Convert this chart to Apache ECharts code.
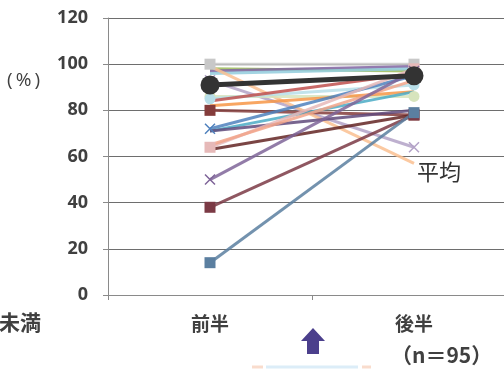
<!DOCTYPE html>
<html>
<head>
<meta charset="utf-8">
<script src="https://cdn.jsdelivr.net/npm/echarts@6/dist/echarts.min.js"></script>
<style>
  html, body { margin: 0; padding: 0; background: #fff; }
  #chart { width: 504px; height: 369px; }
</style>
</head>
<body>
<div id="chart"></div>
<script>
// Periods on the x axis
const periods = ['前半', '後半'];
// Y-axis ticks (percent)
const yTicks = [0, 20, 40, 60, 80, 100, 120];

// Individual rates (%) for each period: [前半, 後半]
const s01 = [100, 100];
const s02 = [98, 97];
const s03 = [97, 99];
const s04 = [96, 98];
const s05 = [93, 64];
const s06 = [99, 57];
const s07 = [86, 86];
const s08 = [85, 91];
const s09 = [84, 96];
const s10 = [80, 78];
const s11 = [82, 88];
const s12 = [72, 95];
const s13 = [71, 88];
const s14 = [71, 80];
const s15 = [64, 98];
const s16 = [65, 93];
const s17 = [63, 78];
const s18 = [50, 97];
const s19 = [38, 78];
const s20 = [14, 79];
// Group average
const avg = [91, 95];

const individual = [
  { d: s01, c: '#c8c8c8', m: 'rect' },
  { d: s02, c: '#9bbb59', m: 'none' },
  { d: s03, c: '#8064a2', m: 'none' },
  { d: s04, c: '#93cddd', m: 'none' },
  { d: s05, c: '#b3a2c7', m: 'cross' },
  { d: s06, c: '#fac090', m: 'none' },
  { d: s07, c: '#d7e4bd', m: 'circle' },
  { d: s08, c: '#b7dee8', m: 'circle' },
  { d: s09, c: '#c0504d', m: 'none' },
  { d: s10, c: '#843c3b', m: 'rect' },
  { d: s11, c: '#f79646', m: 'none' },
  { d: s12, c: '#4f81bd', m: 'cross' },
  { d: s13, c: '#4bacc6', m: 'none' },
  { d: s14, c: '#604a7b', m: 'none' },
  { d: s15, c: '#e6b9b8', m: 'rect' },
  { d: s16, c: '#f2a58a', m: 'none' },
  { d: s17, c: '#632523', m: 'none' },
  { d: s18, c: '#7f6599', m: 'cross' },
  { d: s19, c: '#7b3a45', m: 'rect' },
  { d: s20, c: '#5b7fa0', m: 'rect' }
];

const crossPath = 'path://M0,0L10,10M10,0L0,10';

const series = individual.map((s, i) => ({
  name: 'p' + (i + 1),
  type: 'line',
  data: s.d,
  symbol: s.m === 'cross' ? crossPath : s.m,
  symbolSize: s.m === 'none' ? 0 : (s.m === 'cross' ? 10 : 11),
  showSymbol: s.m !== 'none',
  lineStyle: { color: s.c, width: 3, opacity: 0.85 },
  itemStyle: s.m === 'cross'
    ? { color: 'none', borderColor: s.c, borderWidth: 1.5 }
    : { color: s.c, borderWidth: 0 },
  z: 2,
  silent: true,
  animation: false
}));

series.push({
  name: '平均',
  type: 'line',
  data: avg,
  symbol: 'circle',
  symbolSize: 19,
  lineStyle: { color: '#333333', width: 5 },
  itemStyle: { color: '#333333' },
  z: 5,
  silent: true,
  animation: false
});

const chart = echarts.init(document.getElementById('chart'), null, { renderer: 'canvas' });
const lblFont = '"Noto Sans CJK JP", "Open Sans", sans-serif';

chart.setOption({
  backgroundColor: '#ffffff',
  animation: false,
  grid: {
    left: 108, width: 408, top: 18, bottom: 74,
    containLabel: false,
    outerBoundsMode: 'none'
  },
  xAxis: {
    type: 'category',
    data: periods,
    boundaryGap: true,
    axisLine: { show: true, lineStyle: { color: '#8a8a8a', width: 1 } },
    axisTick: { show: true, length: 5, lineStyle: { color: '#8a8a8a' } },
    axisLabel: {
      margin: 19,
      color: '#404040',
      fontSize: 19,
      fontWeight: 'bold',
      fontFamily: lblFont
    },
    splitLine: { show: false }
  },
  yAxis: {
    type: 'value',
    min: yTicks[0],
    max: yTicks[yTicks.length - 1],
    interval: yTicks[1] - yTicks[0],
    axisLine: { show: true, lineStyle: { color: '#8a8a8a', width: 1 } },
    axisTick: { show: true, length: 5, inside: false, lineStyle: { color: '#8a8a8a' } },
    axisLabel: {
      margin: 20,
      color: '#404040',
      fontSize: 18,
      fontWeight: 'bold',
      fontFamily: '"Open Sans", sans-serif'
    },
    splitLine: { show: true, lineStyle: { color: '#6e6e6e', width: 1 } }
  },
  series: series,
  graphic: [
    {
      type: 'text', left: 7, top: 71,
      style: { text: '(\u2009%\u2009)', font: '19px "Open Sans", sans-serif', fill: '#404040' }
    },
    {
      type: 'text', left: -1, top: 312,
      style: { text: '未満', font: 'bold 21px "Noto Sans CJK JP", sans-serif', fill: '#404040' }
    },
    {
      type: 'text', left: 417, top: 161,
      style: { text: '平均', font: '22px "Noto Sans CJK JP", sans-serif', fill: '#333333' }
    },
    {
      type: 'text', left: 391, top: 345,
      style: { text: '（n＝95）', font: 'bold 21px "Noto Sans CJK JP", sans-serif', fill: '#404040' }
    },
    {
      // upward arrow beneath the mid tick
      type: 'polygon',
      shape: { points: [[313, 328], [325, 341], [319, 341], [319, 354], [307, 354], [307, 341], [301, 341]] },
      style: { fill: '#4b3f8c' }
    },
    {
      type: 'line',
      shape: { x1: 266, y1: 367, x2: 358, y2: 367 },
      style: { stroke: '#dcedf8', lineWidth: 3 }
    },
    {
      type: 'line',
      shape: { x1: 252, y1: 367, x2: 263, y2: 367 },
      style: { stroke: '#f9dccd', lineWidth: 3 }
    },
    {
      type: 'line',
      shape: { x1: 362, y1: 367, x2: 371, y2: 367 },
      style: { stroke: '#f9dccd', lineWidth: 3 }
    }
  ]
});
</script>
</body>
</html>
